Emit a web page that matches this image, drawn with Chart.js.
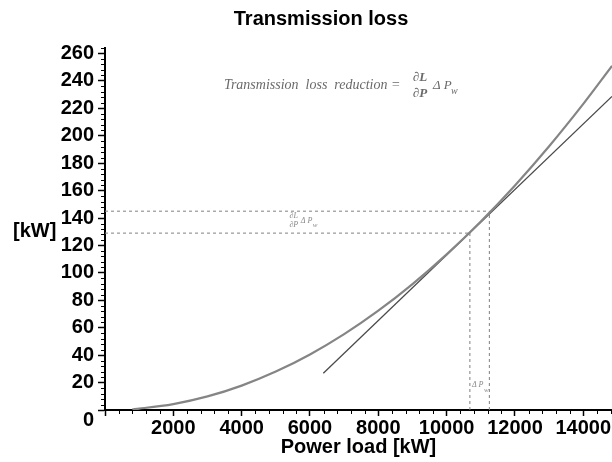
<!DOCTYPE html>
<html>
<head>
<meta charset="utf-8">
<script src="https://cdn.jsdelivr.net/npm/chart.js@4.4.0/dist/chart.umd.min.js"></script>
<style>
  html, body { margin: 0; padding: 0; background: #fff; overflow: hidden; }
</style>
</head>
<body>
<canvas id="lossChart" width="612" height="462"></canvas>
<script>
// values (kW)
const powerLoad = [800, 1000, 2000, 3000, 4000, 5000, 6000, 7000, 8000, 9000, 10000, 11000, 12000, 13000, 14000, 14840];
const lossKW    = [0.5, 1, 4.3, 9.9, 17.8, 28, 40.5, 55.3, 72.4, 91.8, 113.5, 137.5, 163.8, 192.4, 223.3, 251];

// tangent line at the operating point
const tangentLoad = [6390, 14840];
const tangentKW   = [26.8, 228.7];

// P, P + dPw  and  L(P), L(P) + dL/dP*dPw
const markLoad = [10680, 11250];
const markKW   = [129, 145];

const xTicks = [0, 2000, 4000, 6000, 8000, 10000, 12000, 14000];
const yTicks = [0, 20, 40, 60, 80, 100, 120, 140, 160, 180, 200, 220, 240, 260];

const FONT = "'Liberation Sans', Arial, sans-serif";
const SERIF = "'Liberation Serif', 'Times New Roman', serif";

const toPoints = (xs, ys) => xs.map((x, i) => ({ x: x, y: ys[i] }));

// dashed guide lines built from the mark arrays
const guideSets = [];
markLoad.forEach((p, i) => {
    guideSets.push({ data: [{ x: 0, y: markKW[i] }, { x: p, y: markKW[i] }] });
    guideSets.push({ data: [{ x: p, y: 0 }, { x: p, y: markKW[i] }] });
});

// ===================== extra drawing: minor ticks, title, labels =====================
const extras = {
    id: "extras",
    afterDraw(chart) {
        const ctx = chart.ctx;
        const xs = chart.scales.x;
        const ys = chart.scales.y;
        const area = chart.chartArea;
        ctx.save();

        // minor ticks
        ctx.strokeStyle = "#000";
        ctx.lineWidth = 1;
        ctx.beginPath();
        for (let v = 400; v < xs.max; v += 400) {
            if (v % 2000 === 0) continue;
            const px = Math.round(xs.getPixelForValue(v)) + 0.5;
            ctx.moveTo(px, area.bottom);
            ctx.lineTo(px, area.bottom + 4);
        }
        for (let v = 4; v <= ys.max; v += 4) {
            if (v % 20 === 0) continue;
            const py = Math.round(ys.getPixelForValue(v)) + 0.5;
            ctx.moveTo(area.left - 4, py);
            ctx.lineTo(area.left, py);
        }
        ctx.stroke();

        // title and y label
        ctx.fillStyle = "#000";
        ctx.textBaseline = "middle";
        ctx.font = "bold 20px " + FONT;
        ctx.textAlign = "center";
        ctx.fillText("Transmission loss", 321, 19);
        ctx.textAlign = "left";
        ctx.fillText("[kW]", 13, 231);

        // y "0" label sits a little below the axis
        ctx.textAlign = "right";
        ctx.fillText("0", area.left - 11, ys.getPixelForValue(0) + 10);

        // formula
        ctx.fillStyle = "#6a6a6a";
        let fx = xs.getPixelForValue(3480);
        let fy = ys.getPixelForValue(237);
        ctx.textAlign = "left";
        ctx.font = "italic 14px " + SERIF;
        const lead = "Transmission  loss  reduction = ";
        ctx.fillText(lead, fx, fy);
        fx += ctx.measureText(lead).width + 6;
        ctx.font = "italic bold 13px " + SERIF;
        ctx.textAlign = "center";
        ctx.fillText("\u2202L", fx + 10, fy - 7);
        ctx.fillText("\u2202P", fx + 10, fy + 9);
        ctx.textAlign = "left";
        ctx.font = "italic 13px " + SERIF;
        ctx.fillText("\u0394 P", fx + 23, fy + 1);
        ctx.font = "italic 10px " + SERIF;
        ctx.fillText("w", fx + 41, fy + 6);

        // small annotation between the dashed lines
        ctx.fillStyle = "#8a8a8a";
        fx = xs.getPixelForValue(5380);
        fy = ys.getPixelForValue(138.5);
        ctx.font = "italic 8px " + SERIF;
        ctx.textAlign = "center";
        ctx.fillText("\u2202L", fx + 5, fy - 4);
        ctx.fillText("\u2202P", fx + 5, fy + 5);
        ctx.textAlign = "left";
        ctx.fillText("\u0394 P", fx + 12, fy + 1);
        ctx.font = "italic 7px " + SERIF;
        ctx.fillText("w", fx + 24, fy + 5);

        // dPw label near the axis
        fx = xs.getPixelForValue(10740);
        fy = ys.getPixelForValue(18);
        ctx.font = "italic 8px " + SERIF;
        ctx.fillText("\u0394 P", fx, fy);
        ctx.font = "italic 7px " + SERIF;
        ctx.fillText("w", fx + 12, fy + 5);

        ctx.restore();
    }
};

const ctxEl = document.getElementById("lossChart");
new Chart(ctxEl, {
    type: "line",
    data: {
        datasets: [
            ...guideSets.map(g => ({
                data: g.data,
                borderColor: "#808080",
                borderWidth: 1,
                borderDash: [3, 3],
                pointRadius: 0
            })),
            {
                data: toPoints(powerLoad, lossKW),
                borderColor: "#858585",
                borderWidth: 2.2,
                cubicInterpolationMode: "monotone",
                pointRadius: 0
            },
            {
                data: toPoints(tangentLoad, tangentKW),
                borderColor: "#4a4a4a",
                borderWidth: 1.3,
                pointRadius: 0
            }
        ]
    },
    options: {
        responsive: false,
        animation: false,
        layout: { padding: { top: 48, right: 0, bottom: 0, left: 0 } },
        plugins: {
            legend: { display: false },
            tooltip: { enabled: false },
            title: { display: false }
        },
        scales: {
            x: {
                type: "linear",
                min: 0,
                max: 14840,
                afterBuildTicks: s => { s.ticks = xTicks.map(v => ({ value: v })); },
                afterFit: s => { s.height = 52; },
                ticks: {
                    autoSkip: false,
                    maxRotation: 0,
                    padding: 0,
                    color: "#000",
                    font: { family: FONT, size: 20, weight: "bold", lineHeight: 1.2 },
                    callback: v => (v === 0 ? "" : v)
                },
                grid: { drawOnChartArea: false, tickLength: 6, tickColor: "#000", tickWidth: 1.5 },
                border: { color: "#000", width: 2 },
                title: {
                    display: true,
                    text: "Power load [kW]",
                    color: "#000",
                    font: { family: FONT, size: 20, weight: "bold", lineHeight: 1 },
                    padding: { top: 0, bottom: 5 }
                }
            },
            y: {
                min: 0,
                max: 264,
                afterBuildTicks: s => { s.ticks = yTicks.map(v => ({ value: v })); },
                afterFit: s => { s.width = 105; },
                ticks: {
                    padding: 4,
                    color: "#000",
                    font: { family: FONT, size: 20, weight: "bold" },
                    callback: v => (v === 0 ? "" : v)
                },
                grid: { drawOnChartArea: false, tickLength: 7, tickColor: "#000", tickWidth: 1.5 },
                border: { color: "#000", width: 2 }
            }
        }
    },
    plugins: [extras]
});
</script>
</body>
</html>
